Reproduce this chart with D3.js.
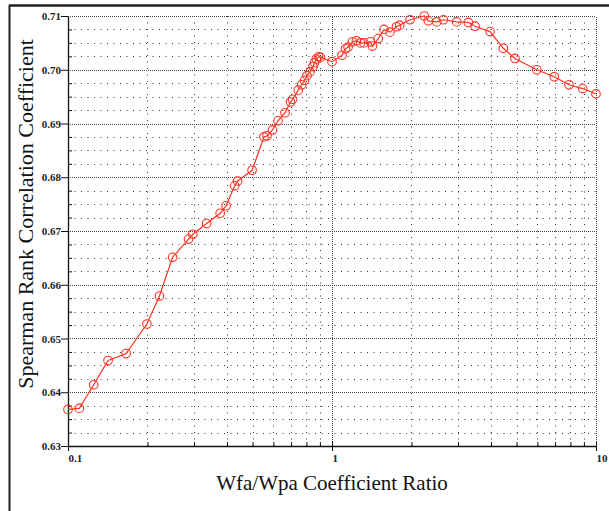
<!DOCTYPE html>
<html>
<head>
<meta charset="utf-8">
<script src="https://cdn.jsdelivr.net/npm/d3@7"></script>
<style>
  body { margin: 0; background: #fff; }
  text { font-family: "Liberation Serif", "DejaVu Serif", serif; }
</style>
</head>
<body>
<div id="chart"></div>
<script>
// Wfa/Wpa ratio vs Spearman rank correlation
const ratio = [0.1, 0.1104, 0.1251, 0.1418, 0.166, 0.199, 0.222, 0.249, 0.286, 0.297,
    0.335, 0.377, 0.397, 0.428, 0.439, 0.498, 0.5526, 0.5672, 0.5952, 0.6245,
    0.6637, 0.6966, 0.709, 0.7452, 0.7677, 0.7865, 0.8038, 0.8254, 0.8472, 0.8585,
    0.872, 0.8891, 0.9046, 1.0, 1.091, 1.125, 1.15, 1.196, 1.238, 1.282,
    1.322, 1.397, 1.423, 1.497, 1.574, 1.659, 1.755, 1.805, 1.975, 2.237,
    2.316, 2.493, 2.641, 2.967, 3.283, 3.482, 3.968, 4.456, 4.934, 5.964,
    6.951, 7.903, 8.905, 10];
const spearman = [0.6368, 0.6370, 0.6414, 0.6459, 0.6472, 0.6527, 0.6579, 0.6651, 0.6685, 0.6694,
    0.6714, 0.6733, 0.6747, 0.6784, 0.6793, 0.6813, 0.6875, 0.6877, 0.6888, 0.6905,
    0.6920, 0.6940, 0.6945, 0.6962, 0.6972, 0.6980, 0.6989, 0.6996, 0.7006, 0.7013,
    0.7020, 0.7024, 0.7023, 0.7015, 0.7027, 0.7039, 0.7042, 0.7052, 0.7054, 0.7050,
    0.7050, 0.7052, 0.7044, 0.7058, 0.7075, 0.7070, 0.7080, 0.7083, 0.7093, 0.7100,
    0.7091, 0.7089, 0.7093, 0.7089, 0.7088, 0.7081, 0.7071, 0.7040, 0.7021, 0.7000,
    0.6987, 0.6972, 0.6965, 0.6955];

const xMajor = [0.1, 1, 10];
const xMinor = [0.2, 0.3, 0.4, 0.5, 0.6, 0.7, 0.8, 0.9, 2, 3, 4, 5, 6, 7, 8, 9];
const yMajor = [0.63, 0.64, 0.65, 0.66, 0.67, 0.68, 0.69, 0.70, 0.71];
const yMinor = d3.range(0, 33).map(i => 0.63 + i * 0.0025).filter((v, i) => i % 4 !== 0);

const data = ratio.map((r, i) => ({ x: r, y: spearman[i] }));

const svgWidth = 609;
const svgHeight = 511;
const margin = { top: 16, right: 13, bottom: 65, left: 68 };

const svg = d3.select("#chart").append("svg")
    .attr("width", svgWidth)
    .attr("height", svgHeight);

const x = d3.scaleLog().domain([0.1, 10]).range([margin.left, svgWidth - margin.right]);
const y = d3.scaleLinear().domain([0.63, 0.71]).range([svgHeight - margin.bottom, margin.top]);

// outer frame (only top and left edges show)
svg.append("line").attr("x1", 9).attr("x2", svgWidth).attr("y1", 5.5).attr("y2", 5.5)
    .attr("stroke", "#222").attr("stroke-width", 2.5);
svg.append("line").attr("x1", 9.5).attr("x2", 9.5).attr("y1", 5).attr("y2", svgHeight)
    .attr("stroke", "#222").attr("stroke-width", 2);

const grid = svg.append("g");

// minor grid
grid.selectAll(".hmin").data(yMinor).enter().append("line")
    .attr("x1", x(0.1)).attr("x2", x(10))
    .attr("y1", d => Math.round(y(d)) + 0.5).attr("y2", d => Math.round(y(d)) + 0.5)
    .attr("stroke", "#333").attr("stroke-dasharray", "1,5.5");
grid.selectAll(".vmin").data(xMinor).enter().append("line")
    .attr("x1", d => Math.round(x(d)) + 0.5).attr("x2", d => Math.round(x(d)) + 0.5)
    .attr("y1", y(0.63)).attr("y2", y(0.71))
    .attr("stroke", "#333").attr("stroke-dasharray", "1,5.5");

// major grid
grid.selectAll(".hmaj").data(yMajor.slice(1)).enter().append("line")
    .attr("x1", x(0.1)).attr("x2", x(10))
    .attr("y1", d => Math.round(y(d)) + 0.5).attr("y2", d => Math.round(y(d)) + 0.5)
    .attr("stroke", "#444").attr("stroke-dasharray", "1,1");
grid.selectAll(".vmaj").data(xMajor.slice(1)).enter().append("line")
    .attr("x1", d => Math.round(x(d)) + 0.5).attr("x2", d => Math.round(x(d)) + 0.5)
    .attr("y1", y(0.63)).attr("y2", y(0.71))
    .attr("stroke", "#444").attr("stroke-dasharray", "1,1");

// axes
const yAxis = svg.append("g")
    .attr("transform", `translate(${x(0.1)},0)`)
    .call(d3.axisLeft(y).tickValues(yMajor).tickFormat(d3.format(".2f")).tickSize(7).tickSizeOuter(0));
yAxis.select(".domain").attr("stroke", "#111").attr("stroke-width", 1.3);
yAxis.selectAll("line").attr("stroke", "#111");
yAxis.selectAll("text").attr("font-size", 11).attr("fill", "#222")
    .attr("font-family", "Liberation Serif").attr("font-weight", "bold").attr("x", -7);

svg.append("g")
    .attr("transform", `translate(${x(0.1)},0)`)
    .call(d3.axisLeft(y).tickValues(yMinor).tickFormat("").tickSize(-4))
    .call(g => g.select(".domain").remove())
    .selectAll("line").attr("stroke", "#111");

const xAxis = svg.append("g")
    .attr("transform", `translate(0,${y(0.63)})`)
    .call(d3.axisBottom(x).tickValues(xMajor).tickFormat(d3.format("")).tickSize(5).tickSizeOuter(0));
xAxis.select(".domain").attr("stroke", "#111").attr("stroke-width", 1.3);
xAxis.selectAll("line").attr("stroke", "#111").attr("y1", -5);
xAxis.selectAll("text").attr("font-size", 11).attr("fill", "#222")
    .attr("font-family", "Liberation Serif").attr("font-weight", "bold")
    .attr("text-anchor", "start").attr("y", 8);

svg.append("g")
    .attr("transform", `translate(0,${y(0.63)})`)
    .call(d3.axisBottom(x).tickValues(xMinor).tickFormat("").tickSize(-4))
    .call(g => g.select(".domain").remove())
    .selectAll("line").attr("stroke", "#111");

// top and right borders (dotted)
svg.append("line").attr("x1", x(0.1)).attr("x2", x(10))
    .attr("y1", y(0.71) + 0.5).attr("y2", y(0.71) + 0.5)
    .attr("stroke", "#444").attr("stroke-dasharray", "1,1");
svg.append("line").attr("x1", Math.round(x(10)) + 0.5).attr("x2", Math.round(x(10)) + 0.5)
    .attr("y1", y(0.63)).attr("y2", y(0.71))
    .attr("stroke", "#444").attr("stroke-dasharray", "1,1");

// series
const red = "#ff3322";
const line = d3.line().x(d => x(d.x)).y(d => y(d.y));
svg.append("path")
    .datum(data)
    .attr("d", line)
    .attr("fill", "none")
    .attr("stroke", red)
    .attr("stroke-width", 1.2);

svg.selectAll(".pt")
    .data(data)
    .enter().append("circle")
    .attr("cx", d => x(d.x))
    .attr("cy", d => y(d.y))
    .attr("r", 4.3)
    .attr("fill", "none")
    .attr("stroke", red)
    .attr("stroke-width", 1.1);

// axis labels
svg.append("text")
    .attr("x", (x(0.1) + x(10)) / 2)
    .attr("y", 490)
    .attr("text-anchor", "middle")
    .attr("font-size", 21)
    .attr("fill", "#111")
    .text("Wfa/Wpa Coefficient Ratio");

svg.append("text")
    .attr("transform", "rotate(-90)")
    .attr("x", -214)
    .attr("y", 33)
    .attr("text-anchor", "middle")
    .attr("font-size", 22)
    .attr("fill", "#111")
    .text("Spearman Rank Correlation Coefficient");
</script>
</body>
</html>
